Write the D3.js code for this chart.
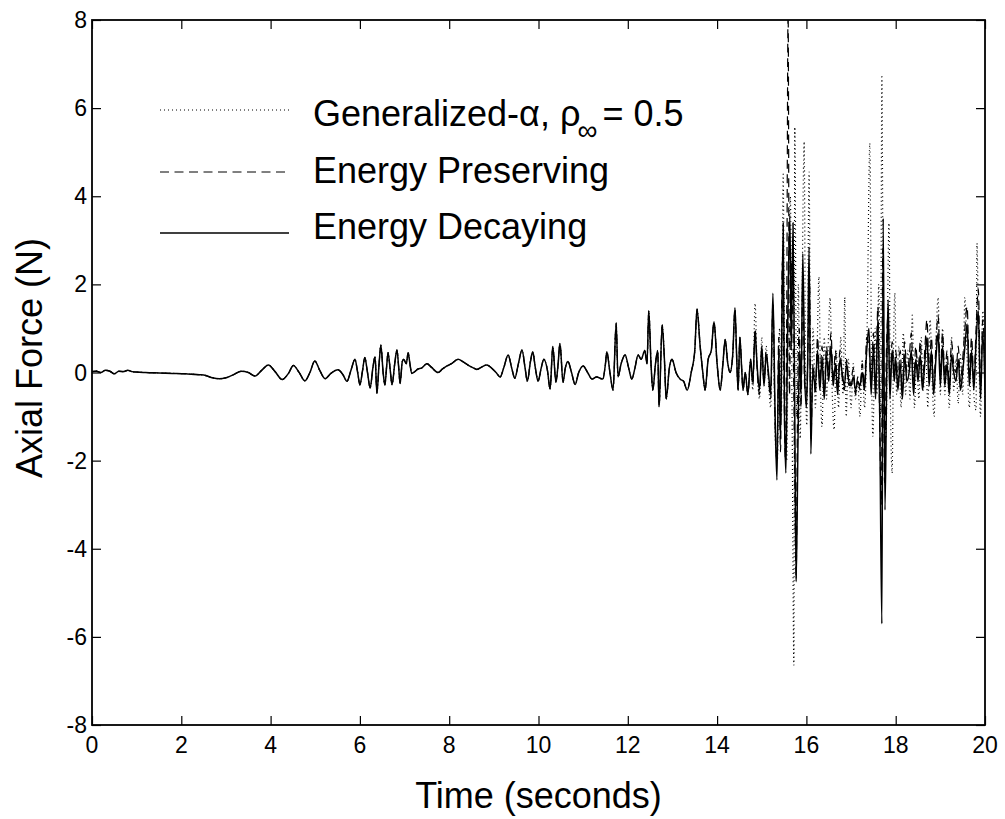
<!DOCTYPE html>
<html>
<head>
<meta charset="utf-8">
<script src="https://cdn.jsdelivr.net/npm/d3@7"></script>
<style>
  body { margin: 0; background: #fff; }
  text { font-family: "Liberation Sans", Arial, Helvetica, sans-serif; fill: #000; }
</style>
</head>
<body>
<div id="svg_container"></div>
<script>
// time (s), force (N) -- all three methods coincide up to ~14.7 s
const earlyCommon = [
  [0,0.02],[0.1,0.03],[0.2,0.0],[0.3,0.05],[0.4,0.03],[0.5,-0.03],[0.6,0.03],[0.7,0.02],[0.8,0.05],[0.9,0.02],
  [1.0,0.01],[1.2,0.0],[1.5,-0.01],[1.8,-0.02],[2.1,-0.03],[2.4,-0.05],[2.55,-0.07],[2.7,-0.12],[2.85,-0.14],[3.0,-0.12],
  [3.15,-0.06],[3.35,0.03],[3.5,0.0],[3.65,-0.08],[3.8,0.05],[3.95,0.17],[4.1,0.02],[4.26,-0.16],[4.4,-0.02],[4.51,0.16],
  [4.64,0.0],[4.77,-0.19],[4.88,0.0],[4.99,0.26],[5.1,0.05],[5.22,-0.14],[5.35,-0.02],[5.51,0.06],[5.62,-0.05],[5.71,-0.2],
  [5.8,0.05],[5.89,0.3],[5.95,0.0],[6.0,-0.28],[6.06,0.05],[6.11,0.34],[6.17,0.0],[6.23,-0.35],[6.29,0.1],[6.34,0.36],
  [6.38,-0.47],[6.43,0.2],[6.47,0.62],[6.52,0.0],[6.56,-0.28],[6.6,0.15],[6.63,0.45],[6.68,0.05],[6.72,-0.28],[6.78,0.2],
  [6.83,0.51],[6.87,0.1],[6.9,-0.25],[6.95,0.25],[6.98,0.3],[7.04,0.2],[7.08,0.45],[7.12,0.2],[7.16,-0.02],[7.23,0.02],
  [7.3,0.08],[7.38,0.1],[7.5,0.2],[7.6,0.12],[7.75,0.0],[7.85,0.08],[7.95,0.15],[8.05,0.2],[8.2,0.3],[8.3,0.25],
  [8.45,0.15],[8.55,0.1],[8.62,0.07],[8.72,0.12],[8.84,0.17],[8.95,0.1],[9.05,0.0],[9.14,-0.1],[9.22,0.1],[9.32,0.4],
  [9.4,0.1],[9.47,-0.13],[9.55,0.2],[9.63,0.51],[9.7,0.1],[9.75,-0.2],[9.82,0.25],[9.87,0.47],[9.93,0.1],[9.99,-0.2],
  [10.06,0.1],[10.12,0.3],[10.2,0.05],[10.26,-0.38],[10.32,0.59],[10.39,-0.22],[10.44,0.2],[10.48,0.66],[10.55,-0.22],[10.6,0.1],
  [10.66,0.25],[10.74,0.0],[10.82,-0.27],[10.9,0.0],[11.0,0.15],[11.1,0.0],[11.2,-0.15],[11.3,-0.1],[11.44,-0.15],[11.5,0.2],
  [11.53,0.47],[11.6,0.0],[11.67,-0.4],[11.74,1.12],[11.78,-0.1],[11.85,0.2],[11.94,0.4],[12.02,0.1],[12.09,-0.15],[12.16,0.1],
  [12.23,0.4],[12.3,0.3],[12.38,0.5],[12.43,0.2],[12.47,1.4],[12.52,0.2],[12.56,-0.4],[12.62,0.2],[12.67,0.5],[12.7,-0.78],
  [12.77,1.08],[12.82,0.3],[12.86,-0.6],[12.93,0.1],[12.99,0.3],[13.08,0.0],[13.17,-0.15],[13.25,-0.2],[13.33,-0.4],[13.42,0.0],
  [13.5,0.5],[13.55,1.44],[13.62,0.6],[13.68,0.0],[13.73,-0.4],[13.8,0.3],[13.87,0.5],[13.93,1.15],[14.0,0.2],[14.07,-0.4],
  [14.13,0.2],[14.18,0.75],[14.24,0.2],[14.29,0.0],[14.35,0.4],[14.4,1.46],[14.44,0.3],[14.47,-0.4],[14.51,0.8],[14.55,0.1],
  [14.58,-0.4],[14.63,0.0],[14.69,-0.5]
];

const alphaLate = [
  [14.75,0.3],[14.8,-0.4],[14.85,1.57],[14.9,0.0],[14.95,-0.6],[15.0,0.8],[15.05,-0.3],[15.1,0.6],[15.15,-0.2],[15.2,-0.8],
  [15.25,1.5],[15.3,-1.5],[15.35,-2.0],[15.4,1.0],[15.44,-1.0],[15.48,4.5],[15.52,-1.5],[15.56,-2.0],[15.6,2.0],[15.64,4.0],
  [15.68,-1.0],[15.72,-6.64],[15.74,5.57],[15.78,-1.0],[15.82,2.0],[15.86,-1.5],[15.9,1.5],[15.95,5.24],[15.98,0.0],[16.01,-1.2],
  [16.06,4.55],[16.1,-1.0],[16.15,1.0],[16.2,-0.8],[16.24,0.5],[16.28,2.17],[16.32,-0.5],[16.35,-1.23],[16.4,0.8],[16.45,-0.6],
  [16.5,1.0],[16.53,1.7],[16.58,-0.5],[16.62,-1.3],[16.67,0.5],[16.72,-0.8],[16.77,0.8],[16.82,-0.5],[16.86,1.7],[16.89,-1.0],
  [16.94,0.3],[17.0,-0.8],[17.05,0.2],[17.1,-0.6],[17.15,-0.2],[17.2,-1.0],[17.25,0.3],[17.3,-0.8],[17.36,1.0],[17.42,5.2],
  [17.46,0.0],[17.49,-1.45],[17.54,1.0],[17.58,-0.5],[17.62,2.0],[17.66,-1.0],[17.69,6.75],[17.73,-0.8],[17.78,-1.5],[17.85,3.39],
  [17.88,-0.5],[17.92,-2.28],[17.95,0.5],[17.98,1.8],[18.02,-0.5],[18.07,0.6],[18.12,-0.8],[18.17,0.9],[18.22,-0.5],[18.27,0.5],
  [18.32,-0.6],[18.37,1.3],[18.42,-0.8],[18.47,0.4],[18.52,-0.6],[18.57,0.8],[18.62,-0.4],[18.67,0.6],[18.72,-0.8],[18.77,1.2],
  [18.82,-0.3],[18.86,-1.0],[18.9,0.6],[18.95,1.7],[19.0,-0.5],[19.05,1.0],[19.1,-0.5],[19.15,0.4],[19.2,-0.8],[19.25,0.8],
  [19.3,-0.4],[19.35,0.3],[19.4,-0.7],[19.45,0.4],[19.5,-0.5],[19.55,1.7],[19.6,0.3],[19.65,-0.8],[19.7,0.6],[19.75,-0.5],
  [19.8,-0.85],[19.82,2.93],[19.86,0.5],[19.9,-1.0],[19.95,1.4],[20.0,-0.6]
];

const preservingLate = [
  [14.75,0.3],[14.8,-0.3],[14.85,1.0],[14.9,0.0],[14.95,-0.5],[15.0,0.5],[15.05,-0.2],[15.1,0.5],[15.15,-0.1],[15.2,-0.6],
  [15.25,1.6],[15.3,-1.2],[15.34,-2.0],[15.38,0.8],[15.42,-1.8],[15.46,2.5],[15.5,-0.5],[15.53,-2.0],[15.56,1.5],[15.59,8.3],
  [15.62,-0.5],[15.66,2.5],[15.7,1.0],[15.73,-1.5],[15.77,-4.7],[15.8,-1.0],[15.84,1.0],[15.88,-0.8],[15.92,2.2],[15.96,-0.3],
  [16.0,-0.5],[16.04,0.8],[16.07,2.2],[16.1,-1.5],[16.15,0.2],[16.2,-0.5],[16.25,0.8],[16.3,-0.2],[16.35,0.6],[16.4,-0.5],
  [16.45,0.6],[16.5,0.0],[16.55,0.9],[16.6,-0.2],[16.65,0.5],[16.7,-0.4],[16.75,0.5],[16.8,-0.1],[16.85,-0.4],[16.9,0.3],
  [16.95,-0.3],[17.0,-0.2],[17.05,0.1],[17.1,-0.5],[17.15,-0.1],[17.2,-0.4],[17.25,0.2],[17.3,-0.3],[17.35,0.8],[17.4,0.6],
  [17.45,-0.3],[17.5,0.9],[17.55,-0.4],[17.6,1.5],[17.64,-1.0],[17.68,-3.0],[17.71,2.8],[17.75,-2.5],[17.79,0.4],[17.83,1.3],
  [17.87,-0.4],[17.92,0.7],[17.97,0.0],[18.0,0.5],[18.05,-0.2],[18.1,0.5],[18.15,-0.4],[18.2,0.7],[18.25,0.0],[18.3,0.3],
  [18.35,0.9],[18.4,-0.3],[18.45,0.6],[18.5,0.0],[18.55,0.7],[18.6,-0.2],[18.65,0.5],[18.7,1.2],[18.75,0.0],[18.8,0.8],
  [18.85,-0.3],[18.9,0.6],[18.95,1.3],[19.0,0.0],[19.05,0.9],[19.1,-0.1],[19.15,0.5],[19.2,-0.3],[19.25,0.7],[19.3,0.2],
  [19.35,0.0],[19.4,0.6],[19.45,-0.2],[19.5,0.3],[19.55,1.0],[19.6,1.5],[19.65,0.0],[19.7,0.8],[19.75,-0.2],[19.8,1.0],
  [19.85,1.9],[19.9,-0.3],[19.95,1.2],[20.0,0.0]
];

const decayingLate = [
  [14.75,0.3],[14.8,-0.2],[14.85,0.9],[14.9,0.1],[14.95,-0.4],[15.0,0.6],[15.05,-0.3],[15.1,0.4],[15.15,0.0],[15.2,-0.5],
  [15.25,1.8],[15.3,-1.0],[15.34,-2.44],[15.38,0.5],[15.42,-1.5],[15.48,3.39],[15.51,-1.0],[15.54,-2.28],[15.58,1.0],[15.63,3.57],
  [15.66,0.5],[15.7,3.4],[15.74,-1.0],[15.77,-4.75],[15.81,-1.7],[15.85,0.5],[15.88,-0.5],[15.92,2.7],[15.96,0.0],[16.0,-0.8],
  [16.03,0.3],[16.06,2.85],[16.1,-1.85],[16.14,0.0],[16.2,-0.3],[16.25,0.5],[16.3,-0.4],[16.35,0.3],[16.4,-0.6],[16.45,0.4],
  [16.5,-0.2],[16.55,0.6],[16.6,-0.3],[16.65,0.2],[16.7,-0.5],[16.75,0.3],[16.8,0.0],[16.85,-0.3],[16.9,0.2],[16.95,-0.2],
  [17.0,-0.3],[17.05,-0.1],[17.1,-0.4],[17.15,-0.2],[17.2,-0.3],[17.25,0.0],[17.3,-0.4],[17.35,0.5],[17.4,1.0],[17.45,-0.5],
  [17.5,0.6],[17.55,-0.6],[17.6,1.2],[17.64,-0.8],[17.69,-5.7],[17.72,3.5],[17.76,-3.12],[17.8,0.0],[17.83,1.65],[17.87,-0.6],
  [17.92,0.5],[17.97,-0.2],[18.0,0.3],[18.05,-0.4],[18.1,0.2],[18.15,-0.6],[18.2,0.4],[18.25,-0.2],[18.3,0.0],[18.35,0.5],
  [18.4,-0.5],[18.45,0.3],[18.5,-0.2],[18.55,0.4],[18.6,-0.4],[18.65,0.2],[18.7,0.8],[18.75,-0.3],[18.8,0.5],[18.85,-0.5],
  [18.9,0.3],[18.95,0.9],[19.0,-0.3],[19.05,0.6],[19.1,-0.3],[19.15,0.2],[19.2,-0.5],[19.25,0.4],[19.3,0.0],[19.35,-0.2],
  [19.4,0.3],[19.45,-0.4],[19.5,0.0],[19.55,0.6],[19.6,1.1],[19.65,-0.3],[19.7,0.5],[19.75,-0.4],[19.8,0.7],[19.85,1.4],
  [19.9,-0.6],[19.95,0.9],[20.0,-0.4]
];

const xTicks = [0, 2, 4, 6, 8, 10, 12, 14, 16, 18, 20];
const yTicks = [-8, -6, -4, -2, 0, 2, 4, 6, 8];

const seriesNames = ["Generalized-\u03b1", "Energy Preserving", "Energy Decaying"];
const seriesDash = ["1,3", "9,5.5", null];
const seriesWidth = [1.2, 1.2, 1.5];

let series = [
  earlyCommon.concat(alphaLate),
  earlyCommon.concat(preservingLate),
  earlyCommon.concat(decayingLate)
];

let margin = {top: 20, right: 20, bottom: 94, left: 92},
    width = 1005 - margin.left - margin.right,
    height = 819 - margin.top - margin.bottom;

let svg = d3.select("#svg_container")
    .append("svg")
    .attr("width", 1005)
    .attr("height", 819)
    .append("g")
    .attr("transform", "translate(" + margin.left + "," + margin.top + ")");

let x = d3.scaleLinear().domain([0, 20]).range([0, width]);
let y = d3.scaleLinear().domain([-8, 8]).range([height, 0]);

svg.append("clipPath")
    .attr("id", "plotclip")
    .append("rect")
    .attr("width", width)
    .attr("height", height);

let line = d3.line()
    .curve(d3.curveMonotoneX)
    .x(d => x(d[0]))
    .y(d => y(d[1]));

let plot = svg.append("g").attr("clip-path", "url(#plotclip)");

for (let i = 0; i < series.length; i++) {
    plot.append("path")
        .datum(series[i])
        .attr("fill", "none")
        .attr("stroke", "#000")
        .attr("stroke-width", seriesWidth[i])
        .attr("stroke-dasharray", seriesDash[i])
        .attr("stroke-linejoin", "round")
        .attr("d", line);
}

// axes: ticks inside on all four sides
let tickLen = 9;
let axes = [
    d3.axisBottom(x).tickValues(xTicks).tickSize(tickLen).tickFormat(""),
    d3.axisTop(x).tickValues(xTicks).tickSize(tickLen).tickFormat(""),
    d3.axisLeft(y).tickValues(yTicks).tickSize(tickLen).tickFormat(""),
    d3.axisRight(y).tickValues(yTicks).tickSize(tickLen).tickFormat("")
];
let axisPos = ["translate(0,0)", "translate(0," + height + ")", "translate(" + width + ",0)", "translate(0,0)"];
for (let i = 0; i < axes.length; i++) {
    let g = svg.append("g").attr("transform", axisPos[i]).call(axes[i]);
    g.select(".domain").remove();
    g.selectAll("line").attr("stroke", "#000").attr("stroke-width", 1.2);
}

svg.append("rect")
    .attr("width", width)
    .attr("height", height)
    .attr("fill", "none")
    .attr("stroke", "#000")
    .attr("stroke-width", 1.8);

// tick labels
svg.selectAll(".xlab")
    .data(xTicks)
    .enter()
    .append("text")
    .attr("x", d => x(d))
    .attr("y", height + 28)
    .attr("text-anchor", "middle")
    .attr("font-size", "23px")
    .text(d => d);

svg.selectAll(".ylab")
    .data(yTicks)
    .enter()
    .append("text")
    .attr("x", -5)
    .attr("y", d => y(d) + 8)
    .attr("text-anchor", "end")
    .attr("font-size", "23px")
    .text(d => d);

svg.append("text")
    .attr("x", width / 2)
    .attr("y", height + 83)
    .attr("text-anchor", "middle")
    .attr("font-size", "36px")
    .text("Time (seconds)");

svg.append("text")
    .attr("transform", "translate(" + (42 - margin.left) + "," + (358 - margin.top) + ") rotate(-90)")
    .attr("text-anchor", "middle")
    .attr("font-size", "36px")
    .text("Axial Force (N)");

// legend
let legendLineY = [110, 172, 233];
let legendTextY = [126, 183, 239];
for (let i = 0; i < seriesNames.length; i++) {
    svg.append("line")
        .attr("x1", 160 - margin.left)
        .attr("x2", 289 - margin.left)
        .attr("y1", legendLineY[i] - margin.top)
        .attr("y2", legendLineY[i] - margin.top)
        .attr("stroke", "#000")
        .attr("stroke-width", seriesWidth[i] - 0.2)
        .attr("stroke-dasharray", seriesDash[i]);

    let t = svg.append("text")
        .attr("x", 313 - margin.left)
        .attr("y", legendTextY[i] - margin.top)
        .attr("font-size", "36px");
    if (i === 0) {
        t.append("tspan").text(seriesNames[i] + ", \u03c1");
        t.append("tspan").attr("font-size", "28px").attr("dx", -3).attr("dy", 14).text("\u221e");
        t.append("tspan").attr("dx", 5).attr("dy", -14).text("= 0.5");
    } else {
        t.text(seriesNames[i]);
    }
}
</script>
</body>
</html>
